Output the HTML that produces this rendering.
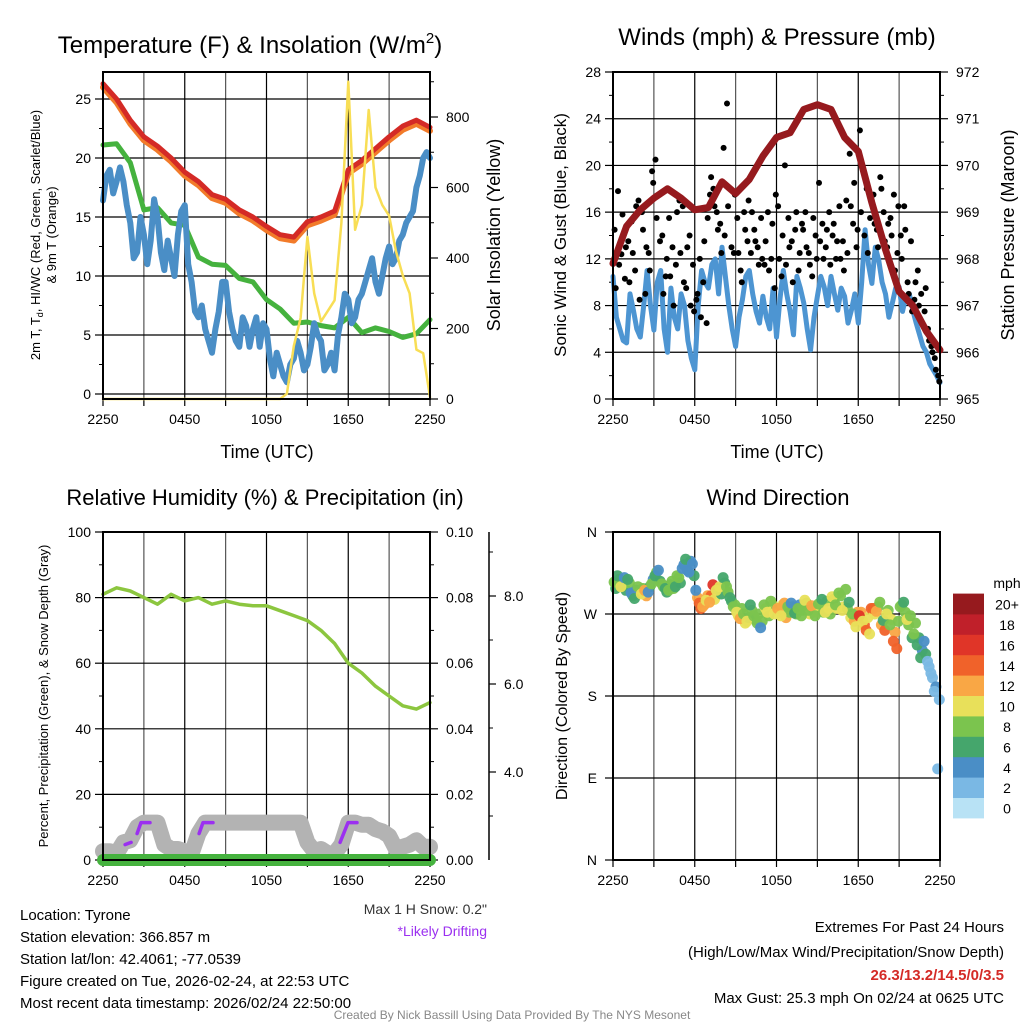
<!DOCTYPE html>
<html><head><meta charset="utf-8"><title>Mesonet Station Chart</title>
<style>
html,body{margin:0;padding:0;background:#fff;}
svg{display:block;font-family:"Liberation Sans",Arial,sans-serif;}
</style></head>
<body>
<svg id="chart" width="1024" height="1024" viewBox="0 0 1024 1024">
<rect x="0" y="0" width="1024" height="1024" fill="#fff"/>
</svg>
<script>
// ---------- DATA ----------
const xTickLabels = ["2250","0450","1050","1650","2250"];
// Panel 1 (hourly unless noted)
const tempRed = [26.3,25.0,23.2,21.8,21.0,20.0,18.8,18.0,16.9,16.5,15.6,15.0,14.2,13.5,13.3,14.6,15.0,15.5,19.0,19.8,20.8,21.8,22.7,23.2,22.6];
const temp9mOrange = [26.0,24.7,22.9,21.5,20.7,19.7,18.5,17.7,16.6,16.2,15.3,14.7,13.9,13.2,13.0,14.3,14.7,15.2,18.7,19.5,20.5,21.5,22.4,22.9,22.3];
const hiwcGreen = [21.1,21.2,19.6,15.6,15.8,14.5,14.3,11.6,11.0,10.9,9.8,9.5,8.0,7.2,6.0,6.1,5.8,5.6,6.5,5.2,5.6,5.3,4.8,5.1,6.3];
// quarter-hourly
const dewBlue = [16.4,18.5,19.0,17.0,18.0,19.2,18.0,16.0,14.5,11.5,12.0,15.0,13.5,11.0,13.0,16.5,15.0,12.0,10.5,13.0,11.5,10.0,13.5,15.5,16.0,11.0,9.5,7.0,6.5,7.5,5.5,4.5,3.5,5.5,7.0,9.5,9.5,7.0,5.5,4.5,4.0,6.5,5.8,4.0,5.5,6.5,4.0,6.0,5.5,3.0,1.5,3.5,2.5,1.5,1.0,2.5,3.0,4.5,3.5,2.0,2.5,4.0,6.0,5.0,4.5,2.0,2.5,3.5,2.0,5.0,6.5,8.5,8.0,6.0,6.5,8.0,8.5,9.5,10.5,11.5,9.5,8.5,10.0,11.5,12.5,11.0,11.5,13.0,13.5,14.5,15.0,15.5,17.5,18.5,20.0,20.5,20.0];
// half-hourly
const solarYellow = [0,0,0,0,0,0,0,0,0,0,0,0,0,0,0,0,0,0,0,0,0,0,0,0,0,0,0,15,150,230,460,300,220,250,280,500,900,480,550,820,600,550,520,420,350,300,140,130,5];
// Panel 2 (quarter-hourly)
const windBlue = [10.5,7.0,6.0,5.0,4.8,9.0,7.6,6.0,5.3,8.0,11.0,8.0,5.9,10.0,11.0,6.0,4.0,9.5,7.0,6.0,9.0,8.0,5.0,3.5,2.5,8.0,11.0,10.0,9.5,11.5,12.0,9.0,13.0,10.5,8.0,6.0,4.5,7.0,8.5,10.5,11.0,9.0,7.5,6.5,8.8,7.0,6.0,9.5,5.3,8.5,11.0,9.0,7.5,5.5,10.5,9.5,8.2,6.0,4.2,7.0,8.8,10.5,9.6,8.0,10.5,9.0,7.6,9.5,8.8,6.5,7.6,9.0,6.5,10.0,14.5,11.5,9.9,13.0,11.9,10.0,9.0,7.0,8.2,9.5,9.6,7.5,8.8,9.0,7.6,6.5,5.5,4.5,4.0,3.0,2.5,2.0,1.4];
// 15-minute gusts (two sensor passes)
const gustBlack = [14.5,17.8,12.4,10.3,13.5,15.2,11.0,17.0,16.0,9.0,12.5,19.5,20.5,17.5,14.0,10.5,15.5,13.0,11.5,17.0,16.5,9.5,14.0,11.5,8.5,12.0,10.0,6.5,17.5,18.0,16.0,15.0,21.5,25.3,18.0,12.5,15.5,11.0,16.0,13.5,12.5,14.5,13.0,15.5,11.5,16.0,12.0,9.5,16.5,10.5,20.0,15.5,13.5,14.5,11.0,15.0,16.0,12.5,10.5,14.0,18.5,15.0,13.0,16.0,14.0,12.0,16.5,13.5,17.0,21.0,15.0,13.0,23.0,19.5,18.0,15.5,17.5,14.5,19.0,16.0,13.0,15.5,17.5,12.5,14.0,16.5,10.0,13.5,8.5,11.0,9.0,7.5,6.0,4.5,3.5,2.0];
const gustExtra = [9.5,11.5,15.8,13.0,10.0,12.5,16.5,8.5,14.5,13.0,11.0,18.5,15.5,13.5,9.0,12.0,10.5,8.0,16.0,12.5,10.0,13.0,8.0,7.5,9.0,7.0,13.5,15.5,19.0,16.5,14.5,12.5,14.0,16.5,13.0,17.5,12.5,10.0,14.5,17.0,16.0,13.5,11.5,12.0,13.5,11.0,15.0,17.5,12.0,14.0,11.5,13.0,10.0,16.0,12.5,14.5,13.0,11.5,15.5,12.0,13.5,12.0,14.5,11.5,15.0,13.5,12.0,11.0,12.5,16.5,18.5,14.5,16.0,14.0,12.5,17.0,15.0,13.0,18.0,13.5,15.0,14.0,11.0,16.5,12.0,14.5,9.0,7.5,10.0,8.0,6.5,9.5,5.0,4.0,2.5,1.5];
const pressureMaroon = [967.9,968.7,969.05,969.3,969.5,969.3,969.05,969.1,969.65,969.4,969.7,970.2,970.6,970.7,971.2,971.3,971.2,970.6,970.3,969.2,968.2,967.3,967.0,966.45,966.05];
// Panel 3
const rhGreen = [81,83,82,80,78,81,79,80,78,79,78,77.5,77.5,76,74.5,73,70,66,60,57,53,50,47,46,48];
const precipGreen = [0,0,0,0,0,0,0,0,0,0,0,0,0,0,0,0,0,0,0,0,0,0,0,0,0];
const snowGray = [2.2,2.2,2.15,2.4,2.45,2.75,2.85,2.85,2.85,2.35,2.25,2.25,2.2,2.15,2.6,2.85,2.85,2.85,2.85,2.85,2.85,2.85,2.85,2.85,2.85,2.85,2.85,2.85,2.85,2.85,2.4,2.2,2.25,2.15,2.15,2.35,2.85,2.85,2.8,2.8,2.7,2.65,2.55,2.25,2.3,2.35,2.45,2.3,2.3];
const driftHours = [[1.62,2.06],[2.5,2.79,3.45],[7.05,7.34,8.07],[17.4,17.98,18.64]];
const driftSnow = [[2.35,2.4],[2.6,2.85,2.85],[2.6,2.85,2.85],[2.4,2.85,2.85]];
// Panel 4 (15-minute, two passes)
const windDir = [305,312,300,310,308,293,287,300,292,296,294,303,312,318,303,298,296,306,300,310,320,330,316,325,296,282,278,285,283,302,296,300,310,300,288,278,272,265,270,262,280,268,260,255,280,272,284,270,276,268,282,278,282,271,276,268,285,274,279,268,281,286,272,276,289,280,293,274,297,283,270,256,268,262,252,248,276,273,283,263,270,258,240,232,278,283,264,268,248,236,222,240,218,205,185,100];
const windSpd = [8,6,10,4,6,4,6,8,10,11,4,8,6,4,8,6,7,8,6,8,4,6,4,3,4,13,12,10,12,15,10,9,6,7,6,8,10,11,8,9,6,7,8,4,8,9,7,10,12,10,11,8,4,6,7,8,9,8,11,7,8,6,10,9,9,8,8,10,8,6,8,10,15,10,13,10,13,12,8,6,10,8,13,13,8,6,10,8,8,6,6,4,2,2,1,1];
const windDir2 = [298,308,303,296,304,290,296,293,298,290,300,308,316,306,300,294,302,298,312,304,324,318,328,312,288,276,280,290,290,286,298,292,304,294,284,280,268,276,260,266,274,264,270,262,276,268,280,274,272,280,266,272,278,270,280,274,282,270,276,272,278,272,284,270,286,276,290,278,276,266,262,272,272,258,266,276,270,278,258,252,274,264,250,262,280,272,258,244,260,244,230,226,212,200,190,176];
const windSpd2 = [6,8,4,6,8,6,4,10,8,11,6,4,8,6,8,6,6,8,8,6,4,3,4,6,12,13,11,12,14,10,8,6,6,8,6,7,10,8,10,6,7,6,8,7,10,8,9,8,11,10,12,8,6,7,4,8,8,10,7,9,9,8,8,7,8,10,7,9,8,10,12,11,11,13,10,13,10,8,12,14,8,10,12,8,7,8,8,6,7,6,4,5,2,2,3,1];
const speedBins = ["0","2","4","6","8","10","12","14","16","18","20+"];
const speedColors = ["#b8e2f5","#7ab8e4","#4a8ec6","#45a66c","#7bc44e","#e8e05a","#f9a745","#f0622a","#e03528","#c0202a","#961a1e"];

// ---------- HELPERS ----------
const NS = "http://www.w3.org/2000/svg";
const svg = document.getElementById("chart");
function mk(tag, parent){ const e = document.createElementNS(NS, tag); (parent||svg).appendChild(e); return e; }
function setA(e, o){ for (const k in o) e.setAttribute(k, o[k]); return e; }
function lin(d0,d1,r0,r1){ return v => r0 + (v-d0)/(d1-d0)*(r1-r0); }
function txt(s, x, y, size, anchor, name, opts){
  const t = mk("text");
  setA(t, {x:x, y:y, "font-size":size, "text-anchor":anchor||"middle", fill:(opts&&opts.fill)||"#000"});
  if (opts && opts.weight) t.setAttribute("font-weight", opts.weight);
  if (opts && opts.rot) t.setAttribute("transform", "rotate(-90 "+x+" "+y+")");
  t.textContent = s;
  
  
  return t;
}
function path(pts, color, w, name, extra){
  let d = "", pen = false;
  pts.forEach(p => { if (p == null || p[1] == null || isNaN(p[1])) { pen = false; return; } d += (pen ? "L" : "M") + p[0].toFixed(1) + " " + p[1].toFixed(1); pen = true; });
  const e = mk("path");
  setA(e, {d:d, fill:"none", stroke:color, "stroke-width":w, "stroke-linejoin":"round", "stroke-linecap":"round"});
  if (extra) setA(e, extra);
  
  
  return e;
}
function ln(x1,y1,x2,y2,color,w,name){
  const e = mk("line");
  setA(e,{x1:x1,y1:y1,x2:x2,y2:y2,stroke:color,"stroke-width":w});
  
  
  return e;
}
function frame(P, name){
  for (let h = 3; h < 24; h += 3) ln(P.xs(h), P.y0, P.xs(h), P.y1, (h%6===0)?"#000":"#555", 1.2, name+"-vgrid");
  for (let h = 0; h <= 24; h += 3) ln(P.xs(h), P.y1, P.xs(h), P.y1+7, "#000", 1.2, name+"-xtick");
  xTickLabels.forEach((s,i) => txt(s, P.xs(i*6), P.y1+25, 14, "middle", name+"-x-tick-label"));
}
function box(P, name){
  const r = mk("rect");
  setA(r,{x:P.x0,y:P.y0,width:P.x1-P.x0,height:P.y1-P.y0,fill:"none",stroke:"#000","stroke-width":2});
  
  
}
function leftAxis(P, ys, majors, minors, fmt, name, grid){
  majors.forEach(v => { if (grid) ln(P.x0, ys(v), P.x1, ys(v), "#000", 1.2, name+"-hgrid"); ln(P.x0-8, ys(v), P.x0, ys(v), "#000", 1.2, name+"-ytick"); txt(fmt(v), P.x0-12, ys(v)+5, 14, "end", name+"-y-tick-label"); });
  minors.forEach(v => ln(P.x0-4, ys(v), P.x0, ys(v), "#000", 1, name+"-ytick-minor"));
}
function rightAxis(P, ys, majors, minors, fmt, name){
  majors.forEach(v => { ln(P.x1, ys(v), P.x1+8, ys(v), "#000", 1.2, name+"-ytick-right"); txt(fmt(v), P.x1+16, ys(v)+5, 14, "start", name+"-right-tick-label"); });
  minors.forEach(v => ln(P.x1, ys(v), P.x1+4, ys(v), "#000", 1, name+"-ytick-right-minor"));
}
function range(a,b,s){ const r=[]; for(let v=a; v<=b+1e-9; v+=s) r.push(+v.toFixed(4)); return r; }

// ---------- PANEL 1 ----------
(function(){
  const P = {x0:103,x1:430,y0:72,y1:399}; P.xs = lin(0,24,P.x0,P.x1);
  const yL = lin(0,25,394,99), yR = lin(0,800,399,117);
  frame(P,"temp-panel");
  leftAxis(P, yL, [0,5,10,15,20,25], [2.5,7.5,12.5,17.5,22.5], v=>String(v), "temp-panel", true);
  rightAxis(P, yR, [0,200,400,600,800], range(100,900,200), v=>String(v), "temp-panel");
  path(hiwcGreen.map((v,i)=>[P.xs(i), yL(v)]), "#45b23e", 5, "hiwc-line");
  path(dewBlue.map((v,i)=>[P.xs(i/4), yL(v)]), "#4a8ec6", 6, "dewpoint-line");
  path(temp9mOrange.map((v,i)=>[P.xs(i), yL(v)]), "#f27b2a", 6, "temp-9m-line");
  path(tempRed.map((v,i)=>[P.xs(i), yL(v)]), "#d42a26", 5, "temp-2m-line");
  path(solarYellow.map((v,i)=>[P.xs(i/2), yR(v)]), "#f8de55", 2.5, "solar-insolation-line");
  box(P,"temp-panel");
  const t = txt("Temperature (F) & Insolation (W/m", 250, 53, 24, "middle", "temp-panel-title");
  const sup = mk("tspan", t); sup.setAttribute("font-size","15"); sup.setAttribute("dy","-10"); sup.textContent = "2";
  const cl = mk("tspan", t); cl.setAttribute("dy","10"); cl.textContent = ")";
  txt("Time (UTC)", 267, 458, 18, "middle", "temp-x-axis-title");
  const yt = txt("2m T, T", 40, 235, 13, "middle", "temp-y-axis-title", {rot:true});
  const sd = mk("tspan", yt); sd.setAttribute("font-size","9"); sd.setAttribute("dy","3"); sd.textContent = "d";
  const rest = mk("tspan", yt); rest.setAttribute("dy","-3"); rest.textContent = ", HI/WC (Red, Green, Scarlet/Blue)";
  txt("& 9m T (Orange)", 56, 235, 13, "middle", "temp-y-axis-title-line2", {rot:true});
  txt("Solar Insolation (Yellow)", 500, 235, 18, "middle", "solar-y-axis-title", {rot:true});
})();

// ---------- PANEL 2 ----------
(function(){
  const P = {x0:613,x1:940,y0:72,y1:399}; P.xs = lin(0,24,P.x0,P.x1);
  const yL = lin(0,28,399,72), yR = lin(965,972,399,72);
  frame(P,"wind-panel");
  leftAxis(P, yL, range(0,28,4), range(2,26,4), v=>String(v), "wind-panel", true);
  rightAxis(P, yR, range(965,972,1), range(965.5,971.5,1), v=>String(v), "wind-panel");
  path(windBlue.map((v,i)=>[P.xs(i/4), yL(v)]), "#4d95d2", 5, "sonic-wind-line");
  gustBlack.forEach((v,i)=>{
    const c = mk("circle");
    setA(c,{cx:P.xs(i/4+0.12).toFixed(1), cy:yL(v).toFixed(1), r:3, fill:"#000"});
    
    
  });
  gustExtra.forEach((v,i)=>{
    const c = mk("circle");
    setA(c,{cx:P.xs(i/4+0.2).toFixed(1), cy:yL(v).toFixed(1), r:3, fill:"#000"});
    
    
  });
  path(pressureMaroon.map((v,i)=>[P.xs(i), yR(v)]), "#961a1e", 7, "station-pressure-line");
  box(P,"wind-panel");
  txt("Winds (mph) & Pressure (mb)", 777, 45, 24, "middle", "wind-panel-title");
  txt("Time (UTC)", 777, 458, 18, "middle", "wind-x-axis-title");
  txt("Sonic Wind & Gust (Blue, Black)", 566, 235, 17, "middle", "wind-y-axis-title", {rot:true});
  txt("Station Pressure (Maroon)", 1014, 235, 18, "middle", "pressure-y-axis-title", {rot:true});
})();

// ---------- PANEL 3 ----------
(function(){
  const P = {x0:103,x1:430,y0:532,y1:860}; P.xs = lin(0,24,P.x0,P.x1);
  const yL = lin(0,100,860,532), yR = lin(0,0.10,860,532), yS = lin(4,6,772,684);
  frame(P,"rh-panel");
  leftAxis(P, yL, range(0,100,20), range(10,90,20), v=>String(v), "rh-panel", true);
  rightAxis(P, yR, range(0,0.10,0.02), range(0.01,0.09,0.02), v=>v.toFixed(2), "rh-panel");
  ln(489, 532, 489, 860, "#000", 1.5, "snow-axis-line");
  [4,6,8].forEach(v => { ln(489, yS(v), 496, yS(v), "#000", 1.2, "snow-axis-tick"); txt(v.toFixed(1), 504, yS(v)+5, 14, "start", "snow-axis-tick-label"); });
  [3,5,7,9].forEach(v => ln(489, yS(v), 493, yS(v), "#000", 1, "snow-axis-minor-tick"));
  path(snowGray.map((v,i)=>[P.xs(i/2), yS(v)]), "#b3b3b3", 16, "snow-depth-line");
  driftHours.forEach((seg,k)=>{
    path(seg.map((h,j)=>[P.xs(h), yS(driftSnow[k][j])]), "#9b30f0", 3.5, "likely-drifting-segment");
  });
  path(precipGreen.map((v,i)=>[P.xs(i), yR(v)]), "#45b23e", 12, "precipitation-line");
  path(rhGreen.map((v,i)=>[P.xs(i), yL(v)]), "#8cc63f", 3.5, "relative-humidity-line");
  box(P,"rh-panel");
  txt("Relative Humidity (%) & Precipitation (in)", 265, 505, 22, "middle", "rh-panel-title");
  txt("Percent, Precipitation (Green), & Snow Depth (Gray)", 48, 696, 13, "middle", "rh-y-axis-title", {rot:true});
})();

// ---------- PANEL 4 ----------
(function(){
  const P = {x0:613,x1:940,y0:532,y1:860}; P.xs = lin(0,24,P.x0,P.x1);
  const yD = lin(0,360,860,532);
  frame(P,"dir-panel");
  const dirLabels = ["N","E","S","W","N"];
  [0,90,180,270,360].forEach((v,i)=>{ ln(P.x0, yD(v), P.x1, yD(v), "#000", 1.2, "dir-panel-hgrid"); ln(P.x0-8, yD(v), P.x0, yD(v), "#000", 1.2, "dir-panel-ytick"); txt(dirLabels[i], P.x0-16, yD(v)+5, 14, "end", "direction-tick-label"); });
  function dot(h, d, s){
    const bin = Math.min(10, Math.max(0, Math.round(s/2)));
    const c = mk("circle");
    setA(c,{cx:P.xs(h).toFixed(1), cy:yD(d).toFixed(1), r:5.5, fill:speedColors[bin], "fill-opacity":0.95});
    
    
  }
  windDir2.forEach((d,i)=>dot(i/4+0.2, d, windSpd2[i]));
  windDir.forEach((d,i)=>dot(i/4+0.08, d, windSpd[i]));
  box(P,"dir-panel");
  txt("Wind Direction", 778, 505, 22, "middle", "dir-panel-title");
  txt("Direction (Colored By Speed)", 567, 696, 16, "middle", "dir-y-axis-title", {rot:true});
  txt("mph", 1007, 588, 14, "middle", "colorbar-title");
  speedBins.forEach((lab,i)=>{
    const y = 818 - (i+1)*20.4;
    const r = mk("rect");
    setA(r,{x:953,y:y.toFixed(1),width:31,height:20.8,fill:speedColors[i]});
    
    
    txt(lab, 1007, y+16, 14, "middle", "colorbar-label");
  });
})();

// ---------- FOOTER TEXT ----------
["Location: Tyrone","Station elevation: 366.857 m","Station lat/lon: 42.4061; -77.0539","Figure created on Tue, 2026-02-24, at 22:53 UTC","Most recent data timestamp: 2026/02/24 22:50:00"]
  .forEach((s,i)=>txt(s, 20, 920+i*22, 15, "start", "station-info-line"));
txt("Max 1 H Snow: 0.2\"", 487, 914, 14, "end", "max-snow-note", {fill:"#333"});
txt("*Likely Drifting", 487, 936, 14, "end", "drifting-note", {fill:"#9b30f0"});
txt("Extremes For Past 24 Hours", 1004, 932, 15, "end", "extremes-title");
txt("(High/Low/Max Wind/Precipitation/Snow Depth)", 1004, 957, 15, "end", "extremes-subtitle");
txt("26.3/13.2/14.5/0/3.5", 1004, 980, 15, "end", "extremes-values", {fill:"#d42a26", weight:"bold"});
txt("Max Gust: 25.3 mph On 02/24 at 0625 UTC", 1004, 1003, 15, "end", "max-gust-text");
txt("Created By Nick Bassill Using Data Provided By The NYS Mesonet", 512, 1019, 12, "middle", "credit-text", {fill:"#888"});
</script>
</body></html>
